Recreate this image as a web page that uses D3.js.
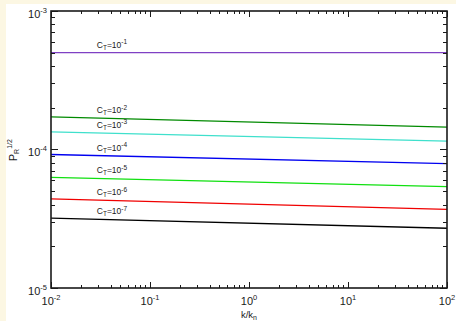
<!DOCTYPE html>
<html>
<head>
<meta charset="utf-8">
<script src="https://cdn.jsdelivr.net/npm/d3@7"></script>
<style>
  html, body { margin: 0; padding: 0; background: #fcf7e3; }
  svg { display: block; }
  text { font-family: "Liberation Sans", Arial, Helvetica, sans-serif; fill: #1a1a1a; }
</style>
</head>
<body>
<svg id="chart" width="456" height="321"></svg>
<script>
// Wavenumber range (k/k_n) at which each curve is evaluated
const kValues = [0.01, 100];

// Tensor amplitude exponents: C_T = 10^exp
const ctExponents = [-1, -2, -3, -4, -5, -6, -7];

// P_R^{1/2} at k/k_n = 0.01 and k/k_n = 100, one pair per C_T
const ctM1 = [5.0e-4, 5.0e-4];
const ctM2 = [1.72e-4, 1.45e-4];
const ctM3 = [1.34e-4, 1.15e-4];
const ctM4 = [9.2e-5, 7.9e-5];
const ctM5 = [6.3e-5, 5.4e-5];
const ctM6 = [4.4e-5, 3.7e-5];
const ctM7 = [3.2e-5, 2.7e-5];

const seriesValues = [ctM1, ctM2, ctM3, ctM4, ctM5, ctM6, ctM7];
const seriesColors = ["#7f40c4", "#008a00", "#3fe0cc", "#0000f0", "#10e010", "#f00000", "#000000"];

// Axis decades
const xTickExps = [-2, -1, 0, 1, 2];
const yTickExps = [-5, -4, -3];

const svg = d3.select("#chart");
const W = 456, H = 321;

// panel background
svg.append("rect").attr("x", 6).attr("y", 4).attr("width", W - 6).attr("height", H - 4).attr("fill", "#ffffff");

const plot = { left: 51, right: 447, top: 11, bottom: 288 };

const x = d3.scaleLog().domain([1e-2, 1e2]).range([plot.left, plot.right]);
const y = d3.scaleLog().domain([1e-5, 1e-3]).range([plot.bottom, plot.top]);

// minor + major tick values
function logTicks(lo, hi) {
  const out = [];
  for (let e = lo; e < hi; e++) {
    for (let m = 1; m <= 9; m++) out.push({ v: m * Math.pow(10, e), major: m === 1 });
  }
  out.push({ v: Math.pow(10, hi), major: true });
  return out;
}
const xt = logTicks(-2, 2);
const yt = logTicks(-5, -3);

// curves
const line = d3.line().x(d => x(d[0])).y(d => y(d[1]));
const curves = svg.append("g");
seriesValues.forEach((vals, i) => {
  curves.append("path")
    .datum(kValues.map((k, j) => [k, vals[j]]))
    .attr("d", line)
    .attr("fill", "none")
    .attr("stroke", seriesColors[i])
    .attr("stroke-width", 1.3);
});

// curve labels, placed just above each curve near its left end
const labelK = 0.029;
const labels = svg.append("g");
seriesValues.forEach((vals, i) => {
  const interp = d3.scaleLog().domain(kValues).range(vals.map(v => Math.log10(v)));
  const vy = Math.pow(10, interp(labelK));
  const t = labels.append("text")
    .attr("x", x(labelK))
    .attr("y", y(vy) - 5)
    .attr("font-size", 8.5);
  t.append("tspan").text("C");
  t.append("tspan").attr("font-size", 6.5).attr("dy", 2).text("T");
  t.append("tspan").attr("dy", -2).text("=10");
  t.append("tspan").attr("font-size", 6.5).attr("dy", -3.5).text(String(ctExponents[i]));
});

// frame ticks (all pointing inward)
const ticks = svg.append("g").attr("stroke", "#1a1a1a").attr("stroke-width", 1);
xt.forEach(t => {
  const len = t.major ? 6 : 3;
  const px = Math.round(x(t.v)) + 0.5;
  ticks.append("line").attr("x1", px).attr("x2", px).attr("y1", plot.bottom).attr("y2", plot.bottom - len);
  ticks.append("line").attr("x1", px).attr("x2", px).attr("y1", plot.top).attr("y2", plot.top + len);
});
yt.forEach(t => {
  const len = t.major ? 7 : 4;
  const py = Math.round(y(t.v)) + 0.5;
  ticks.append("line").attr("y1", py).attr("y2", py).attr("x1", plot.left).attr("x2", plot.left + len);
  ticks.append("line").attr("y1", py).attr("y2", py).attr("x1", plot.right).attr("x2", plot.right - len);
});

// frame
svg.append("rect")
  .attr("x", plot.left).attr("y", plot.top)
  .attr("width", plot.right - plot.left).attr("height", plot.bottom - plot.top)
  .attr("fill", "none").attr("stroke", "#1a1a1a").attr("stroke-width", 1.6);

// x tick labels
xTickExps.forEach(e => {
  const t = svg.append("text")
    .attr("x", x(Math.pow(10, e)))
    .attr("y", 305)
    .attr("text-anchor", "middle")
    .attr("font-size", 11);
  t.append("tspan").text("10");
  t.append("tspan").attr("font-size", 7.5).attr("dy", -5).text(String(e));
});

// y tick labels
yTickExps.forEach(e => {
  const t = svg.append("text")
    .attr("x", 47)
    .attr("y", y(Math.pow(10, e)) + 6.5)
    .attr("text-anchor", "end")
    .attr("font-size", 11);
  t.append("tspan").text("10");
  t.append("tspan").attr("font-size", 7.5).attr("dy", -5).text(String(e));
});

// axis titles
const xl = svg.append("text")
  .attr("x", x(1)).attr("y", 318)
  .attr("text-anchor", "middle")
  .attr("font-size", 9.5);
xl.append("tspan").text("k/k");
xl.append("tspan").attr("font-size", 7).attr("dy", 2).text("n");

const yl = svg.append("text")
  .attr("transform", "translate(17,150) rotate(-90)")
  .attr("text-anchor", "middle")
  .attr("font-size", 10.5);
yl.append("tspan").text("P");
yl.append("tspan").attr("font-size", 7).attr("dy", 2).text("R");
yl.append("tspan").attr("font-size", 7).attr("dy", -7).text("1/2");
</script>
</body>
</html>
